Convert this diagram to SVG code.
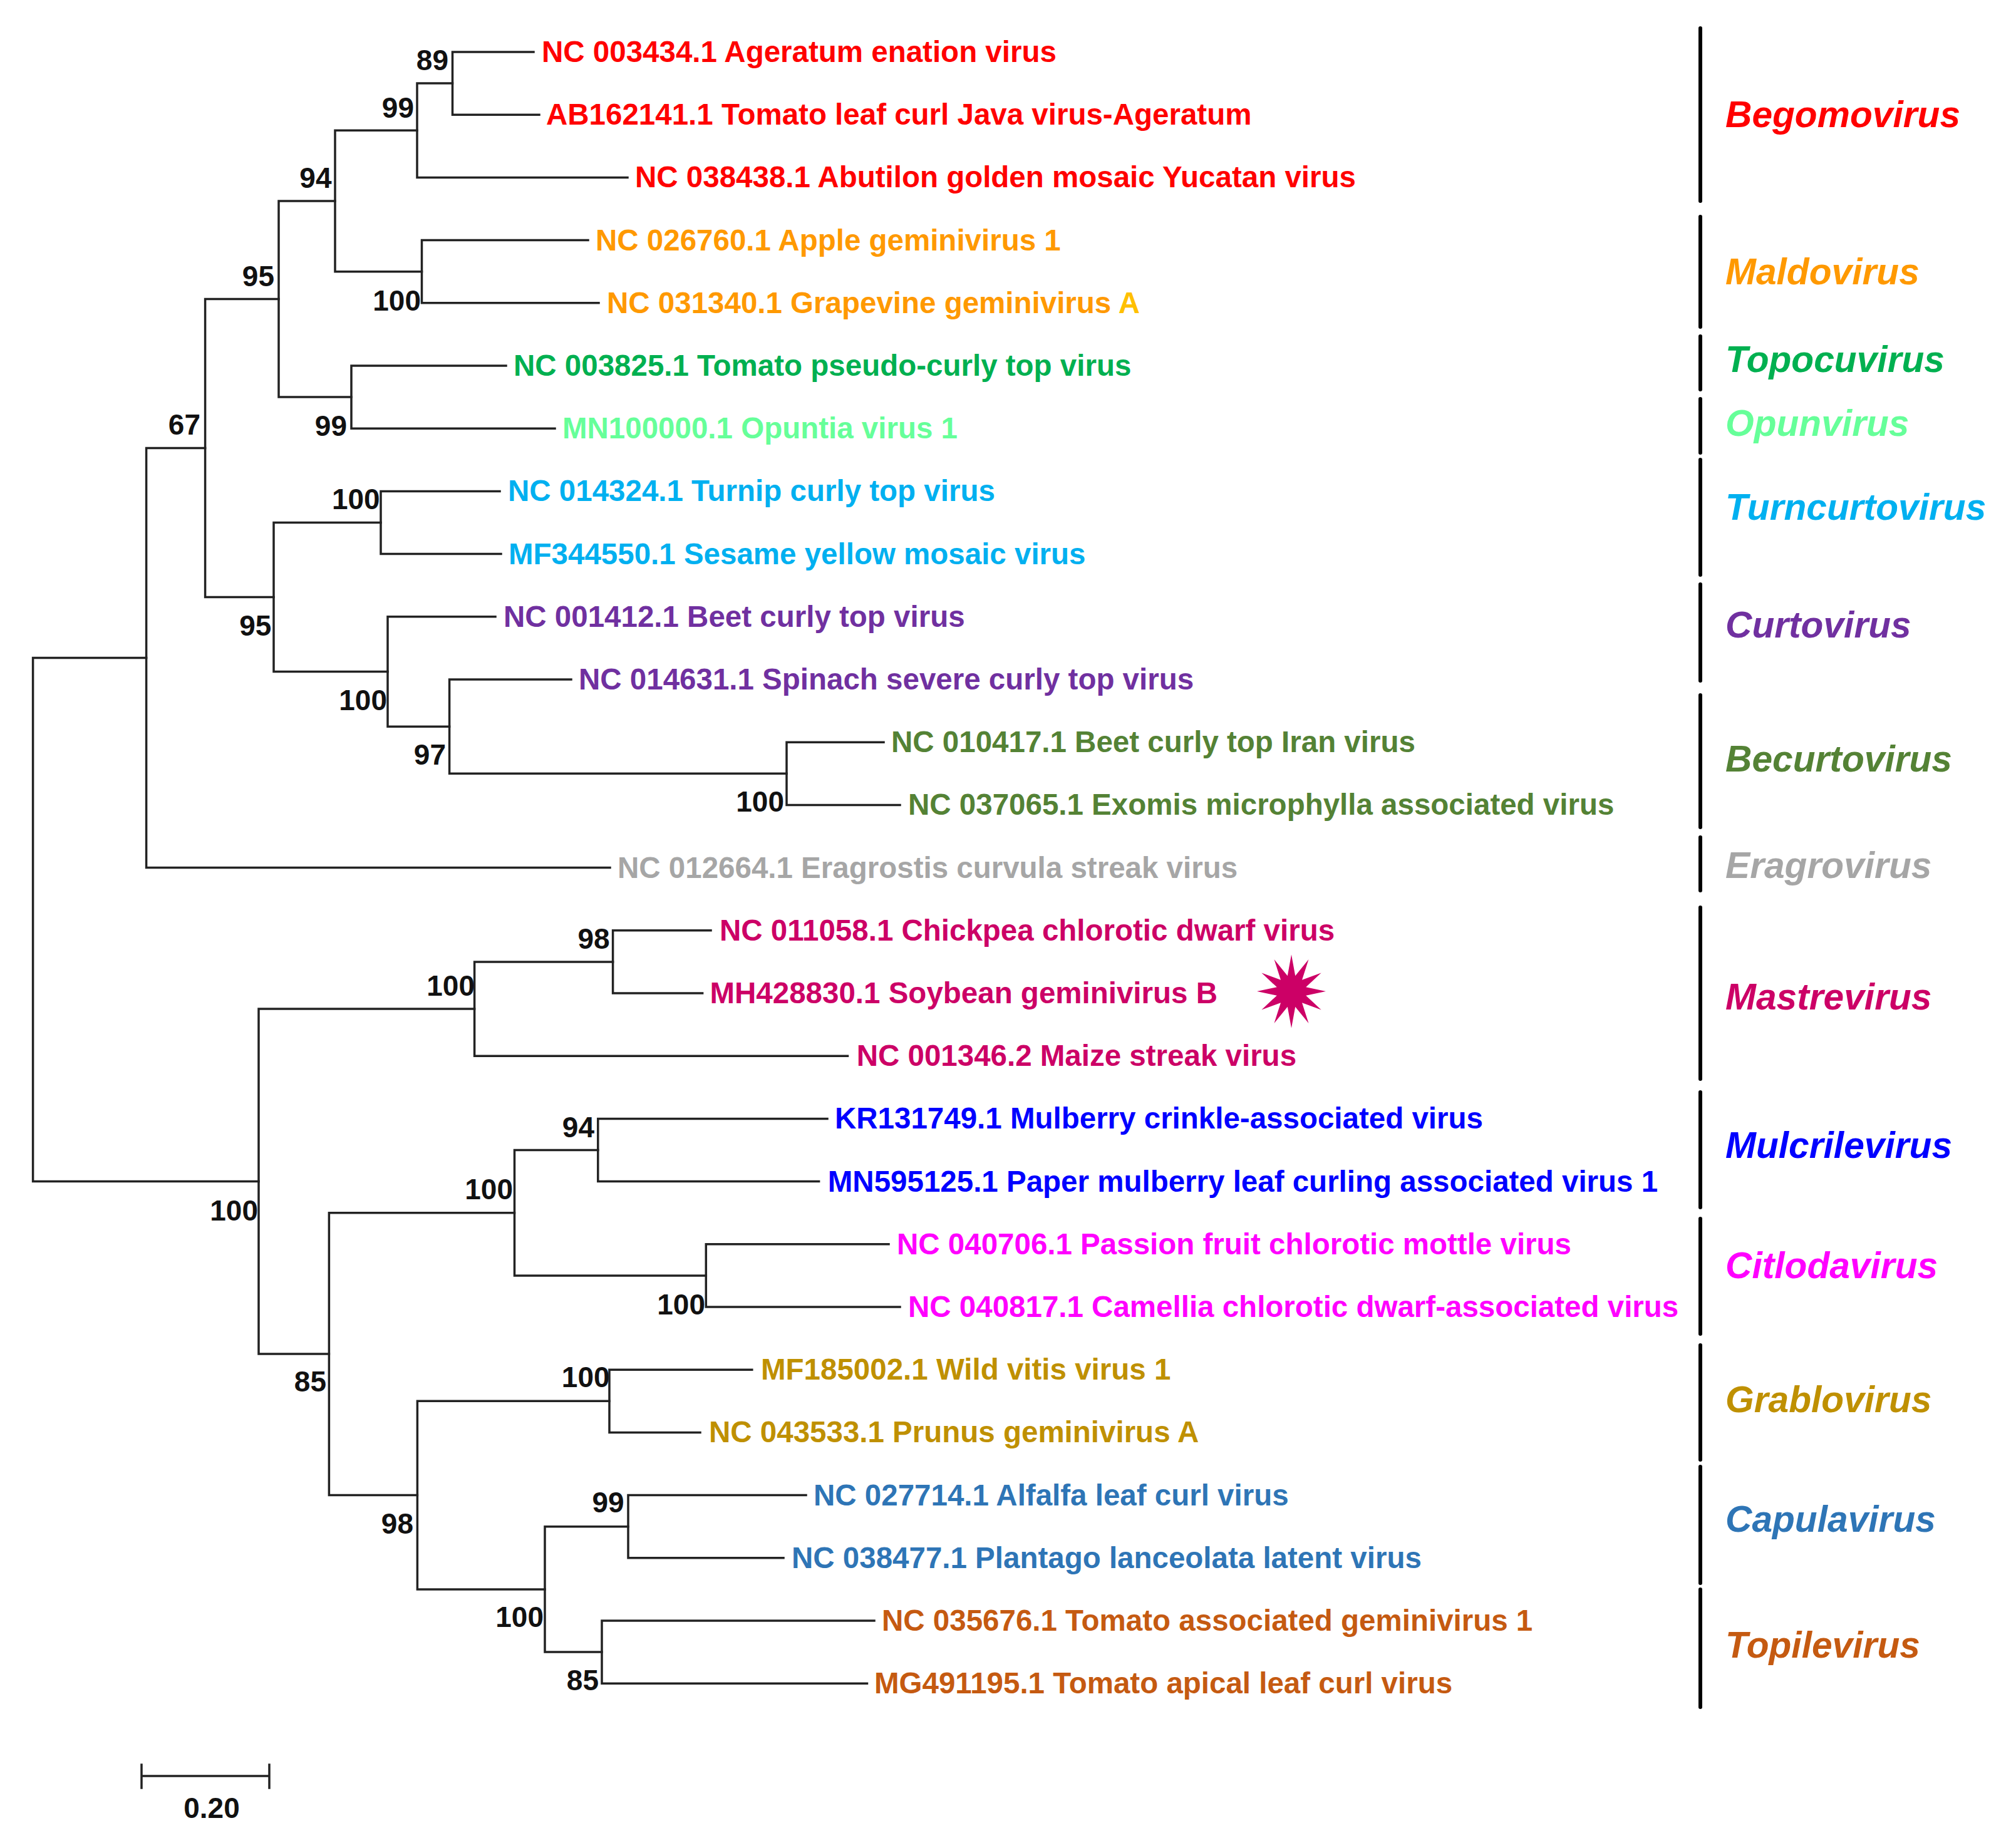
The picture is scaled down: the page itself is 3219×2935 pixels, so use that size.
<svg xmlns="http://www.w3.org/2000/svg" width="3219" height="2935" viewBox="0 0 3219 2935">
<style>
.leaf{font-family:"Liberation Sans",Arial,sans-serif;font-weight:bold;font-size:47.5px}
.bs{font-family:"Liberation Sans",Arial,sans-serif;font-weight:bold;font-size:46px;fill:#111;text-anchor:end}
.genus{font-family:"Liberation Sans",Arial,sans-serif;font-weight:bold;font-style:italic;font-size:58.7px}
.tree{fill:none;stroke:#222;stroke-width:3.5;stroke-linecap:square}
.bar{fill:none;stroke:#000;stroke-width:6;stroke-linecap:round}
</style>
<rect width="3219" height="2935" fill="#fff"/>
<g id="connectors" class="tree">
<path d="M722.5 83 H852 M722.5 183.2 H861 M722.5 83 V183.2"/>
<path d="M666 133.1 H722.5 M666 283.4 H1002 M666 133.1 V283.4"/>
<path d="M673.5 383.6 H939 M673.5 483.8 H956 M673.5 383.6 V483.8"/>
<path d="M535 208.3 H666 M535 433.7 H673.5 M535 208.3 V433.7"/>
<path d="M561 584 H808 M561 684.2 H886 M561 584 V684.2"/>
<path d="M445 321 H535 M445 634.1 H561 M445 321 V634.1"/>
<path d="M608 784.4 H798 M608 884.6 H800 M608 784.4 V884.6"/>
<path d="M1256 1185.2 H1411 M1256 1285.4 H1437 M1256 1185.2 V1285.4"/>
<path d="M717.6 1085 H912 M717.6 1235.3 H1256 M717.6 1085 V1235.3"/>
<path d="M619 984.8 H791 M619 1160.2 H717.6 M619 984.8 V1160.2"/>
<path d="M437 834.5 H608 M437 1072.5 H619 M437 834.5 V1072.5"/>
<path d="M327.6 477.6 H445 M327.6 953.5 H437 M327.6 477.6 V953.5"/>
<path d="M233.6 715.6 H327.6 M233.6 1385.6 H974 M233.6 715.6 V1385.6"/>
<path d="M978.6 1485.8 H1135 M978.6 1586 H1121.6 M978.6 1485.8 V1586"/>
<path d="M757.6 1535.9 H978.6 M757.6 1686.2 H1353.5 M757.6 1535.9 V1686.2"/>
<path d="M954.8 1786.4 H1321 M954.8 1886.6 H1307.6 M954.8 1786.4 V1886.6"/>
<path d="M1127.3 1986.8 H1419 M1127.3 2087 H1437 M1127.3 1986.8 V2087"/>
<path d="M821.5 1836.5 H954.8 M821.5 2036.9 H1127.3 M821.5 1836.5 V2036.9"/>
<path d="M973 2187.2 H1200.8 M973 2287.4 H1118 M973 2187.2 V2287.4"/>
<path d="M1003 2387.6 H1287 M1003 2487.8 H1251 M1003 2387.6 V2487.8"/>
<path d="M961 2588 H1396 M961 2688.2 H1384.5 M961 2588 V2688.2"/>
<path d="M870 2437.7 H1003 M870 2638.1 H961 M870 2437.7 V2638.1"/>
<path d="M666.4 2237.3 H973 M666.4 2537.9 H870 M666.4 2237.3 V2537.9"/>
<path d="M525.4 1936.7 H821.5 M525.4 2387.6 H666.4 M525.4 1936.7 V2387.6"/>
<path d="M413 1611 H757.6 M413 2162 H525.4 M413 1611 V2162"/>
<path d="M52.6 1050.6 H233.6 M52.6 1886.5 H413 M52.6 1050.6 V1886.5"/>
</g>
<g id="bootstrap">
<text class="bs" x="716" y="111.6">89</text>
<text class="bs" x="661" y="187.5">99</text>
<text class="bs" x="529.5" y="300">94</text>
<text class="bs" x="438" y="456.7">95</text>
<text class="bs" x="672" y="495.5">100</text>
<text class="bs" x="320" y="694">67</text>
<text class="bs" x="554" y="696">99</text>
<text class="bs" x="606.7" y="813">100</text>
<text class="bs" x="433.4" y="1015">95</text>
<text class="bs" x="618" y="1134">100</text>
<text class="bs" x="712" y="1221">97</text>
<text class="bs" x="1252" y="1296">100</text>
<text class="bs" x="973.6" y="1515">98</text>
<text class="bs" x="758" y="1590">100</text>
<text class="bs" x="949" y="1816">94</text>
<text class="bs" x="819" y="1915">100</text>
<text class="bs" x="412" y="1948.5">100</text>
<text class="bs" x="1126" y="2099">100</text>
<text class="bs" x="521" y="2222">85</text>
<text class="bs" x="973.6" y="2215">100</text>
<text class="bs" x="660" y="2449">98</text>
<text class="bs" x="996.7" y="2415">99</text>
<text class="bs" x="868" y="2598">100</text>
<text class="bs" x="956" y="2699">85</text>
</g>
<g id="leaf-01"><text class="leaf" x="865" y="99" fill="#FF0000">NC 003434.1 Ageratum enation virus</text></g>
<g id="leaf-02"><text class="leaf" x="872" y="199.2" fill="#FF0000">AB162141.1 Tomato leaf curl Java virus-Ageratum</text></g>
<g id="leaf-03"><text class="leaf" x="1014" y="299.4" fill="#FF0000">NC 038438.1 Abutilon golden mosaic Yucatan virus</text></g>
<g id="leaf-04"><text class="leaf" x="951" y="399.6" fill="#FF9900">NC 026760.1 Apple geminivirus 1</text></g>
<g id="leaf-05"><text class="leaf" x="969" y="499.8" fill="#FF9900">NC 031340.1 Grapevine geminivirus <tspan fill="#FFC000">A</tspan></text></g>
<g id="leaf-06"><text class="leaf" x="820" y="600" fill="#00B050">NC 003825.1 Tomato pseudo-curly top virus</text></g>
<g id="leaf-07"><text class="leaf" x="898" y="700.2" fill="#66FF99">MN100000.1 Opuntia virus 1</text></g>
<g id="leaf-08"><text class="leaf" x="811" y="800.4" fill="#00B0F0">NC 014324.1 Turnip curly top virus</text></g>
<g id="leaf-09"><text class="leaf" x="812" y="900.6" fill="#00B0F0">MF344550.1 Sesame yellow mosaic virus</text></g>
<g id="leaf-10"><text class="leaf" x="804" y="1000.8" fill="#7030A0">NC 001412.1 Beet curly top virus</text></g>
<g id="leaf-11"><text class="leaf" x="924" y="1101" fill="#7030A0">NC 014631.1 Spinach severe curly top virus</text></g>
<g id="leaf-12"><text class="leaf" x="1423" y="1201.2" fill="#548235">NC 010417.1 Beet curly top Iran virus</text></g>
<g id="leaf-13"><text class="leaf" x="1450" y="1301.4" fill="#548235">NC 037065.1 Exomis microphylla associated virus</text></g>
<g id="leaf-14"><text class="leaf" x="986" y="1401.6" fill="#A6A6A6">NC 012664.1 Eragrostis curvula streak virus</text></g>
<g id="leaf-15"><text class="leaf" x="1149" y="1501.8" fill="#CC0066">NC 011058.1 Chickpea chlorotic dwarf virus</text></g>
<g id="leaf-16"><text class="leaf" x="1133.5" y="1602" fill="#CC0066">MH428830.1 Soybean geminivirus B</text></g>
<g id="leaf-17"><text class="leaf" x="1367.7" y="1702.2" fill="#CC0066">NC 001346.2 Maize streak virus</text></g>
<g id="leaf-18"><text class="leaf" x="1333" y="1802.4" fill="#0000FF">KR131749.1 Mulberry crinkle-associated virus</text></g>
<g id="leaf-19"><text class="leaf" x="1321.8" y="1902.6" fill="#0000FF">MN595125.1 Paper mulberry leaf curling associated virus 1</text></g>
<g id="leaf-20"><text class="leaf" x="1432" y="2002.8" fill="#FF00FF">NC 040706.1 Passion fruit chlorotic mottle virus</text></g>
<g id="leaf-21"><text class="leaf" x="1450" y="2103" fill="#FF00FF">NC 040817.1 Camellia chlorotic dwarf-associated virus</text></g>
<g id="leaf-22"><text class="leaf" x="1215" y="2203.2" fill="#BF9000">MF185002.1 Wild vitis virus 1</text></g>
<g id="leaf-23"><text class="leaf" x="1132" y="2303.4" fill="#BF9000">NC 043533.1 Prunus geminivirus A</text></g>
<g id="leaf-24"><text class="leaf" x="1299" y="2403.6" fill="#2E75B6">NC 027714.1 Alfalfa leaf curl virus</text></g>
<g id="leaf-25"><text class="leaf" x="1264" y="2503.8" fill="#2E75B6">NC 038477.1 Plantago lanceolata latent virus</text></g>
<g id="leaf-26"><text class="leaf" x="1408" y="2604" fill="#C55A11">NC 035676.1 Tomato associated geminivirus 1</text></g>
<g id="leaf-27"><text class="leaf" x="1396" y="2704.2" fill="#C55A11">MG491195.1 Tomato apical leaf curl virus</text></g>
<g id="star"><polygon fill="#CC0066" transform="translate(0,-6) translate(2062,1589) scale(1.0,1.07) translate(-2062,-1589)" points="2062,1534 2068.2,1565.8 2089.5,1541.4 2079,1572 2109.6,1561.5 2085.2,1582.8 2117,1589 2085.2,1595.2 2109.6,1616.5 2079,1606 2089.5,1636.6 2068.2,1612.2 2062,1644 2055.8,1612.2 2034.5,1636.6 2045,1606 2014.4,1616.5 2038.8,1595.2 2007,1589 2038.8,1582.8 2014.4,1561.5 2045,1572 2034.5,1541.4 2055.8,1565.8"/></g>
<g id="genus-begomovirus"><path class="bar" d="M2715 45 V321"/><text class="genus" x="2755" y="203" fill="#FF0000">Begomovirus</text></g>
<g id="genus-maldovirus"><path class="bar" d="M2715 346 V522"/><text class="genus" x="2755" y="454" fill="#FF9900">Maldovirus</text></g>
<g id="genus-topocuvirus"><path class="bar" d="M2715 537 V622"/><text class="genus" x="2755" y="594" fill="#00B050">Topocuvirus</text></g>
<g id="genus-opunvirus"><path class="bar" d="M2715 637 V723"/><text class="genus" x="2755" y="696" fill="#66FF99">Opunvirus</text></g>
<g id="genus-turncurtovirus"><path class="bar" d="M2715 734 V918"/><text class="genus" x="2755" y="830" fill="#00B0F0">Turncurtovirus</text></g>
<g id="genus-curtovirus"><path class="bar" d="M2715 933 V1087"/><text class="genus" x="2755" y="1018" fill="#7030A0">Curtovirus</text></g>
<g id="genus-becurtovirus"><path class="bar" d="M2715 1110 V1321"/><text class="genus" x="2755" y="1232" fill="#548235">Becurtovirus</text></g>
<g id="genus-eragrovirus"><path class="bar" d="M2715 1337 V1422"/><text class="genus" x="2755" y="1402" fill="#A6A6A6">Eragrovirus</text></g>
<g id="genus-mastrevirus"><path class="bar" d="M2715 1449 V1723"/><text class="genus" x="2755" y="1612" fill="#CC0066">Mastrevirus</text></g>
<g id="genus-mulcrilevirus"><path class="bar" d="M2715 1744 V1928"/><text class="genus" x="2755" y="1849" fill="#0000FF">Mulcrilevirus</text></g>
<g id="genus-citlodavirus"><path class="bar" d="M2715 1946 V2130"/><text class="genus" x="2755" y="2041" fill="#FF00FF">Citlodavirus</text></g>
<g id="genus-grablovirus"><path class="bar" d="M2715 2148 V2331"/><text class="genus" x="2755" y="2255" fill="#BF9000">Grablovirus</text></g>
<g id="genus-capulavirus"><path class="bar" d="M2715 2342 V2528"/><text class="genus" x="2755" y="2446" fill="#2E75B6">Capulavirus</text></g>
<g id="genus-topilevirus"><path class="bar" d="M2715 2538 V2726"/><text class="genus" x="2755" y="2647" fill="#C55A11">Topilevirus</text></g>
<g id="scale-bar">
<path class="tree" d="M226 2836 H430 M226 2818 V2855 M430 2818 V2855"/>
<text class="bs" x="338" y="2903" style="text-anchor:middle">0.20</text>
</g>
</svg>
